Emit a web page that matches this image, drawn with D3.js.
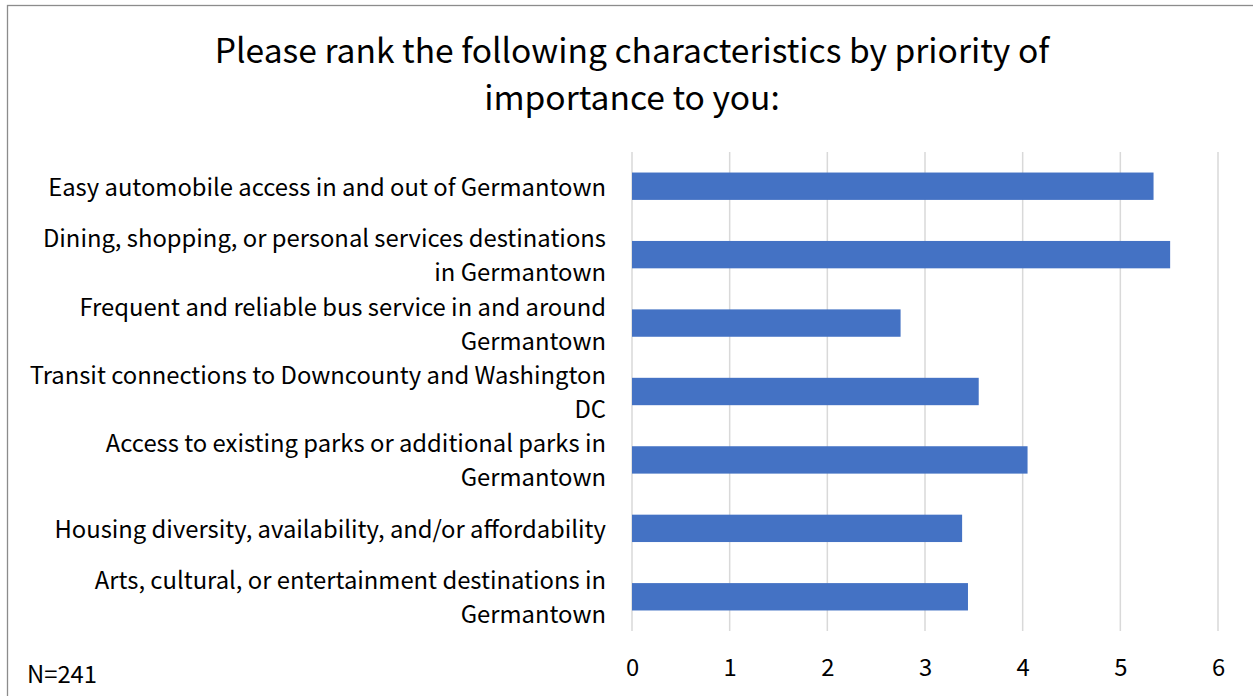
<!DOCTYPE html>
<html>
<head>
<meta charset="utf-8">
<script src="https://cdn.jsdelivr.net/npm/d3@7"></script>
<style>
  body { margin: 0; background: #fff; }
  text { font-family: "Noto Sans CJK JP", "Noto Sans", sans-serif; fill: #000; }
</style>
</head>
<body>
<div id="chart"></div>
<script>
// data
const categories = [
    ["Easy automobile access in and out of Germantown"],
    ["Dining, shopping, or personal services destinations", "in Germantown"],
    ["Frequent and reliable bus service in and around", "Germantown"],
    ["Transit connections to Downcounty and Washington", "DC"],
    ["Access to existing parks or additional parks in", "Germantown"],
    ["Housing diversity, availability, and/or affordability"],
    ["Arts, cultural, or entertainment destinations in", "Germantown"]
];
const scores = [5.34, 5.51, 2.75, 3.55, 4.05, 3.38, 3.44];
const xTicks = [0, 1, 2, 3, 4, 5, 6];
const titleLines = ["Please rank the following characteristics by priority of", "importance to you:"];
const note = "N=241";

const width = 1253, height = 696;
const margin = { top: 152, left: 632, right: 35, bottom: 65 };
const fontFamily = "'Noto Sans CJK JP', 'Noto Sans', sans-serif";

const svg = d3.select("#chart")
    .append("svg")
    .attr("width", width)
    .attr("height", height);

// chart border (runs past the picture on the right and bottom)
svg.append("rect")
    .attr("x", 7.5)
    .attr("y", 5.5)
    .attr("width", width + 20)
    .attr("height", height + 20)
    .attr("fill", "none")
    .attr("stroke", "#8c8c8c")
    .attr("stroke-width", 1.3);

svg.append("g")
    .selectAll("text")
    .data(titleLines)
    .enter()
    .append("text")
    .attr("x", 632)
    .attr("y", (d, i) => 62.5 + i * 47)
    .attr("text-anchor", "middle")
    .style("font-size", "33.6px")
    .text(d => d);

const x = d3.scaleLinear()
    .domain([0, 6])
    .range([margin.left, width - margin.right]);

const y = d3.scaleBand()
    .domain(d3.range(categories.length))
    .range([margin.top, height - margin.bottom])
    .paddingInner(0.6)
    .paddingOuter(0.3);

// gridlines
svg.append("g")
    .selectAll("line")
    .data(xTicks)
    .enter()
    .append("line")
    .attr("x1", d => x(d))
    .attr("x2", d => x(d))
    .attr("y1", margin.top)
    .attr("y2", height - margin.bottom)
    .attr("stroke", "#d9d9d9")
    .attr("stroke-width", 1.5);

// bars
svg.append("g")
    .selectAll("rect")
    .data(scores)
    .enter()
    .append("rect")
    .attr("x", x(0))
    .attr("y", (d, i) => y(i))
    .attr("width", d => x(d) - x(0))
    .attr("height", y.bandwidth())
    .attr("fill", "#4472c4");

// x axis
const xAxis = svg.append("g")
    .attr("transform", `translate(0, ${height - 20})`)
    .call(d3.axisBottom(x).tickValues(xTicks).tickSize(0).tickFormat(d3.format("d")));
xAxis.select(".domain").remove();
xAxis.selectAll("text")
    .attr("dy", 0)
    .attr("y", 0)
    .style("font-size", "23.8px")
    .style("font-family", fontFamily)
    .attr("fill", "#000");

// category labels
const labels = svg.append("g")
    .selectAll("text")
    .data(categories)
    .enter()
    .append("text")
    .attr("text-anchor", "end")
    .style("font-size", "23.8px")
    .attr("transform", (d, i) => `translate(606, ${y(i) + y.bandwidth() / 2 + 9.5 - (d.length - 1) * 17})`);

labels.selectAll("tspan")
    .data(d => d)
    .enter()
    .append("tspan")
    .attr("x", 0)
    .attr("dy", (d, i) => i === 0 ? 0 : 34)
    .text(d => d);

svg.append("text")
    .attr("x", 27)
    .attr("y", 683)
    .style("font-size", "23.8px")
    .text(note);
</script>
</body>
</html>
